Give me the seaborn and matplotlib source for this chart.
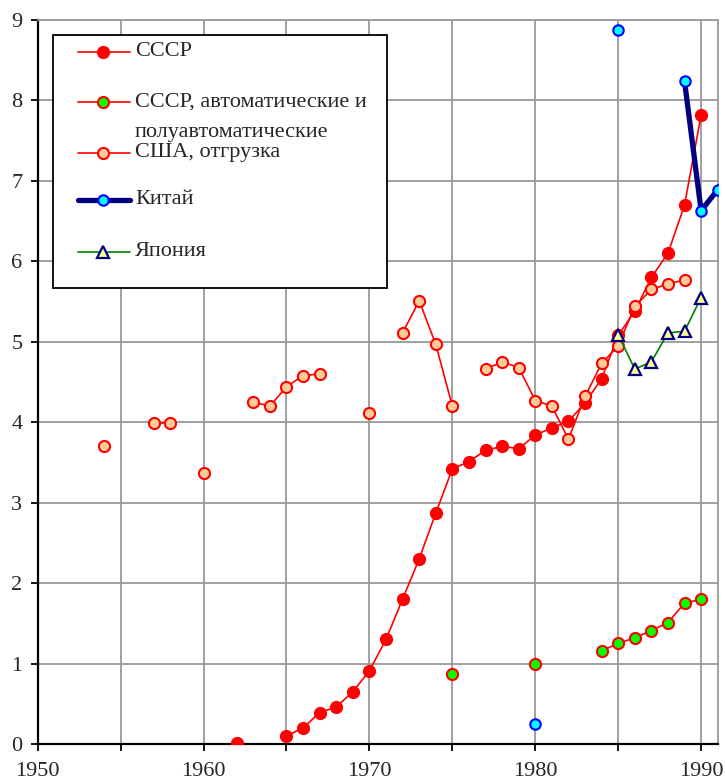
import numpy as np
import pandas as pd
import matplotlib
matplotlib.use('Agg')
import matplotlib.pyplot as plt
from matplotlib.patches import Rectangle
from matplotlib.lines import Line2D
import seaborn as sns

# --- data ---
ussr_years = [1962, 1965, 1966, 1967, 1968, 1969, 1970, 1971, 1972, 1973, 1974,
              1975, 1976, 1977, 1978, 1979, 1980, 1981, 1982, 1983, 1984,
              1985, 1986, 1987, 1988, 1989, 1990]
ussr_vals = [0.01, 0.10, 0.20, 0.39, 0.46, 0.65, 0.91, 1.30, 1.80, 2.30, 2.87,
             3.42, 3.51, 3.65, 3.70, 3.67, 3.84, 3.93, 4.01, 4.24, 4.54,
             5.08, 5.38, 5.80, 6.10, 6.70, 7.82]

auto_years = [1975, 1980, 1984, 1985, 1986, 1987, 1988, 1989, 1990]
auto_vals = [0.87, 0.99, 1.16, 1.25, 1.32, 1.41, 1.51, 1.75, 1.80]

usa_years = [1954, 1957, 1958, 1960, 1963, 1964, 1965, 1966, 1967, 1970,
             1972, 1973, 1974, 1975, 1977, 1978, 1979, 1980, 1981, 1982,
             1983, 1984, 1985, 1986, 1987, 1988, 1989]
usa_vals = [3.70, 3.99, 3.99, 3.37, 4.25, 4.20, 4.44, 4.58, 4.60, 4.11,
            5.11, 5.51, 4.97, 4.20, 4.66, 4.75, 4.68, 4.27, 4.20, 3.79,
            4.32, 4.73, 4.95, 5.44, 5.65, 5.72, 5.77]

china_years = [1980, 1985, 1989, 1990, 1991]
china_vals = [0.25, 8.88, 8.24, 6.63, 6.89]

japan_years = [1985, 1986, 1987, 1988, 1989, 1990]
japan_vals = [5.09, 4.66, 4.75, 5.11, 5.13, 5.55]

labels = ['СССР', 'СССР, автоматические и\nполуавтоматические', 'США, отгрузка',
          'Китай', 'Япония']
x_ticks = list(range(1950, 1991, 5))
x_ticklabels = [str(y) if y % 10 == 0 else '' for y in x_ticks]


def frame(years, vals):
    df = pd.DataFrame({'year': years, 'value': vals})
    # a new segment starts wherever a year is missing
    df['seg'] = (df['year'].diff().fillna(1) > 1).cumsum()
    return df


sns.set_style('white')
plt.rcParams['font.family'] = ['Liberation Serif', 'DejaVu Serif']
FS = 16

W, H = 725, 783
fig = plt.figure(figsize=(W / 100, H / 100), dpi=100)
ax = fig.add_axes([37.7 / W, 1 - 744 / H, 680 / W, 724 / H])

styles = [
    (ussr_years, ussr_vals, dict(color='#ff0000', lw=1.2, marker='o', markersize=8.5,
                                 markerfacecolor='#ff0000', markeredgecolor='#ff0000',
                                 markeredgewidth=1)),
    (auto_years, auto_vals, dict(color='#ff0000', lw=1.2, marker='o', markersize=8,
                                 markerfacecolor='#00ff00', markeredgecolor='#ff0000',
                                 markeredgewidth=1.5)),
    (usa_years, usa_vals, dict(color='#ff0000', lw=1.2, marker='o', markersize=8,
                               markerfacecolor='#ffcc99', markeredgecolor='#ff0000',
                               markeredgewidth=1.5)),
    (china_years, china_vals, dict(color='#000080', lw=3.8, marker='o', markersize=7.5,
                                   markerfacecolor='#00ffff', markeredgecolor='#0000ff',
                                   markeredgewidth=1.5)),
    (japan_years, japan_vals, dict(color='#008000', lw=1.2, marker='^', markersize=9,
                                   markerfacecolor='#ffff99', markeredgecolor='#000080',
                                   markeredgewidth=1.6)),
]

for years, vals, kw in styles:
    sns.lineplot(data=frame(years, vals), x='year', y='value', units='seg',
                 estimator=None, sort=False, legend=False, ax=ax, zorder=3, **kw)

ax.set_xlim(1950, 1991)
ax.set_ylim(0, 9)
ax.set_xticks(x_ticks)
ax.set_xticklabels(x_ticklabels)
ax.set_yticks(range(0, 10))
ax.set_xlabel('')
ax.set_ylabel('')
ax.grid(True, color='#999999', lw=1.3)
ax.set_axisbelow(True)
ax.tick_params(axis='both', direction='out', length=5, width=1.3, color='black',
               labelsize=FS, bottom=True, left=True)
ax.tick_params(axis='x', pad=8)
ax.tick_params(axis='y', pad=6)
for side in ['left', 'bottom']:
    ax.spines[side].set_color('black')
    ax.spines[side].set_linewidth(1.6)
for side in ['top', 'right']:
    ax.spines[side].set_color('#999999')
    ax.spines[side].set_linewidth(1.3)


# --- legend box, drawn in pixel positions ---
def fx(x):
    return x / W


def fy(y):
    return 1 - y / H


fig.add_artist(Rectangle((fx(53), fy(288)), fx(387) - fx(53), fy(35) - fy(288),
                         transform=fig.transFigure, facecolor='white',
                         edgecolor='black', lw=1.3, zorder=5))
entry_y = [52, 102, 153, 200, 252]
for (years, vals, kw), lab, yy in zip(styles, labels, entry_y):
    fig.add_artist(Line2D([fx(78), fx(130)], [fy(yy), fy(yy)], transform=fig.transFigure,
                          zorder=6, color=kw['color'], lw=kw['lw']))
    fig.add_artist(Line2D([fx(103)], [fy(yy)], transform=fig.transFigure, zorder=7,
                          linestyle='none', marker=kw['marker'], markersize=kw['markersize'],
                          markerfacecolor=kw['markerfacecolor'],
                          markeredgecolor=kw['markeredgecolor'],
                          markeredgewidth=kw['markeredgewidth']))
    lines = lab.split('\n')
    fig.text(fx(135), fy(yy), lines[0], fontsize=FS, va='center', ha='left', zorder=8)
    if len(lines) > 1:
        fig.text(fx(135), fy(yy + 31), lines[1], fontsize=FS, va='center',
                 ha='left', zorder=8)

fig.savefig('out.png', dpi=100)
